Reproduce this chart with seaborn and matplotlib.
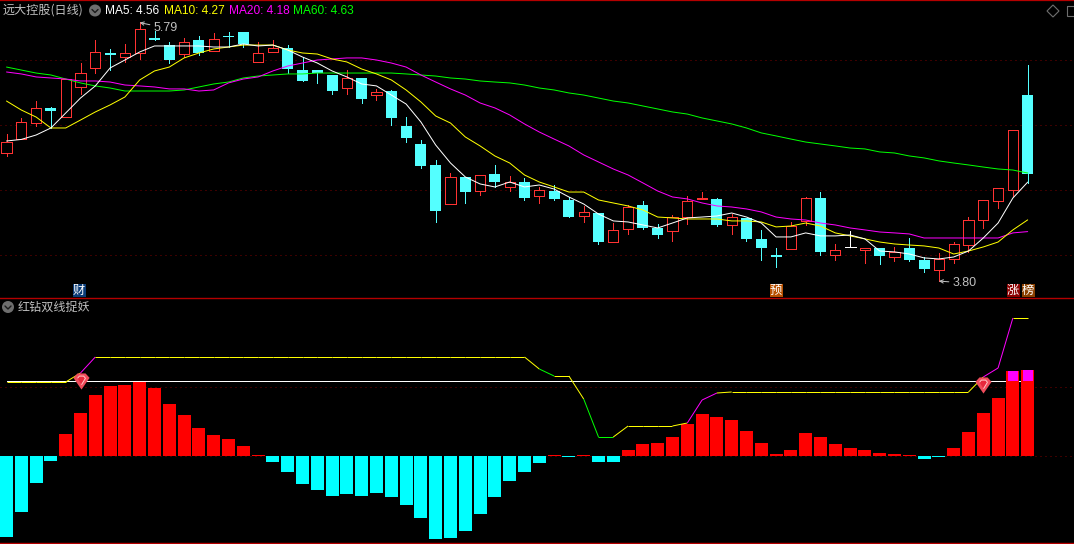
import matplotlib
matplotlib.use('Agg')
import matplotlib.pyplot as plt
from matplotlib.lines import Line2D
from matplotlib.patches import Circle, Polygon, Rectangle
from matplotlib.transforms import Affine2D
import numpy as np
import pandas as pd
import seaborn as sns

# Daily candles
opens = [4.784, 4.891, 5.014, 5.130, 5.060, 5.291, 5.437, 5.552, 5.521, 5.552,
         5.667, 5.613, 5.544, 5.652, 5.567, 5.683, 5.713, 5.483, 5.560, 5.590,
         5.421, 5.421, 5.383, 5.283, 5.360, 5.229, 5.260, 4.991, 4.853, 4.692,
         4.392, 4.600, 4.492, 4.623, 4.523, 4.561, 4.454, 4.492, 4.423, 4.300,
         4.323, 4.100, 4.200, 4.385, 4.208, 4.185, 4.292, 4.431, 4.431, 4.231,
         4.285, 4.124, 4.001, 4.047, 4.262, 4.438, 4.001, 4.062, 4.039, 4.054,
         3.985, 4.054, 3.962, 3.885, 3.970, 4.077, 4.269, 4.415, 4.500, 5.229]
highs = [4.930, 5.053, 5.183, 5.137, 5.352, 5.475, 5.652, 5.583, 5.621, 5.790,
         5.721, 5.636, 5.667, 5.683, 5.706, 5.713, 5.713, 5.636, 5.652, 5.613,
         5.521, 5.421, 5.383, 5.421, 5.360, 5.276, 5.268, 5.060, 4.884, 4.730,
         4.630, 4.600, 4.615, 4.692, 4.607, 4.592, 4.523, 4.538, 4.446, 4.377,
         4.323, 4.246, 4.385, 4.415, 4.239, 4.308, 4.454, 4.484, 4.438, 4.315,
         4.285, 4.193, 4.054, 4.254, 4.446, 4.484, 4.085, 4.185, 4.054, 4.054,
         4.062, 4.131, 3.985, 4.016, 4.100, 4.292, 4.423, 4.515, 4.961, 5.460]
lows = [4.761, 4.891, 4.991, 4.976, 5.060, 5.237, 5.398, 5.421, 5.483, 5.506,
        5.652, 5.475, 5.521, 5.537, 5.567, 5.598, 5.598, 5.483, 5.560, 5.398,
        5.337, 5.322, 5.237, 5.237, 5.168, 5.191, 4.999, 4.868, 4.669, 4.254,
        4.392, 4.400, 4.461, 4.523, 4.492, 4.423, 4.400, 4.423, 4.292, 4.254,
        4.085, 4.100, 4.162, 4.200, 4.131, 4.108, 4.239, 4.431, 4.223, 4.162,
        4.108, 3.962, 3.908, 4.047, 4.231, 4.001, 3.962, 4.062, 3.939, 3.932,
        3.955, 3.955, 3.870, 3.800, 3.939, 4.024, 4.208, 4.362, 4.454, 4.554]
closes = [4.868, 5.022, 5.130, 5.107, 5.352, 5.398, 5.560, 5.537, 5.552, 5.736,
          5.652, 5.498, 5.636, 5.552, 5.659, 5.675, 5.621, 5.552, 5.590, 5.429,
          5.337, 5.398, 5.260, 5.360, 5.199, 5.252, 5.053, 4.899, 4.684, 4.339,
          4.600, 4.484, 4.615, 4.561, 4.561, 4.438, 4.500, 4.431, 4.292, 4.331,
          4.100, 4.193, 4.369, 4.208, 4.154, 4.292, 4.415, 4.438, 4.231, 4.292,
          4.124, 4.054, 3.985, 4.223, 4.438, 4.024, 4.039, 4.062, 4.054, 3.993,
          4.024, 3.962, 3.893, 3.970, 4.085, 4.269, 4.423, 4.515, 4.961, 4.623]

ma5 = [4.876, 4.888, 4.922, 4.976, 5.091, 5.206, 5.299, 5.437, 5.498, 5.560,
       5.606, 5.606, 5.606, 5.606, 5.598, 5.598, 5.621, 5.606, 5.613, 5.575,
       5.521, 5.475, 5.414, 5.368, 5.314, 5.299, 5.229, 5.160, 5.022, 4.845,
       4.707, 4.600, 4.546, 4.523, 4.561, 4.523, 4.538, 4.507, 4.446, 4.392,
       4.315, 4.262, 4.254, 4.231, 4.208, 4.246, 4.285, 4.292, 4.300, 4.323,
       4.292, 4.246, 4.139, 4.139, 4.170, 4.147, 4.147, 4.154, 4.124, 4.031,
       4.024, 4.008, 3.978, 3.970, 3.985, 4.031, 4.131, 4.246, 4.438, 4.560]
ma10 = [5.183, 5.114, 5.060, 4.976, 4.976, 5.037, 5.099, 5.153, 5.214, 5.345,
        5.414, 5.444, 5.514, 5.552, 5.583, 5.598, 5.613, 5.613, 5.613, 5.575,
        5.552, 5.544, 5.506, 5.483, 5.429, 5.391, 5.345, 5.268, 5.176, 5.068,
        5.014, 4.907, 4.838, 4.761, 4.707, 4.615, 4.561, 4.523, 4.484, 4.484,
        4.423, 4.400, 4.377, 4.346, 4.292, 4.285, 4.277, 4.277, 4.277, 4.262,
        4.262, 4.254, 4.216, 4.223, 4.246, 4.223, 4.170, 4.147, 4.124, 4.100,
        4.085, 4.077, 4.070, 4.054, 4.008, 4.031, 4.062, 4.100, 4.193, 4.270]
ma20 = [5.406, 5.391, 5.368, 5.360, 5.352, 5.337, 5.337, 5.329, 5.306, 5.299,
        5.291, 5.276, 5.276, 5.260, 5.268, 5.322, 5.352, 5.368, 5.414, 5.452,
        5.475, 5.498, 5.506, 5.514, 5.514, 5.498, 5.475, 5.444, 5.383, 5.329,
        5.276, 5.229, 5.168, 5.130, 5.076, 5.007, 4.945, 4.891, 4.838, 4.769,
        4.715, 4.661, 4.615, 4.554, 4.492, 4.446, 4.431, 4.400, 4.377, 4.369,
        4.354, 4.331, 4.292, 4.277, 4.269, 4.246, 4.231, 4.208, 4.193, 4.177,
        4.170, 4.162, 4.131, 4.131, 4.131, 4.131, 4.131, 4.131, 4.170, 4.180]
ma60 = [5.444, 5.421, 5.398, 5.383, 5.352, 5.322, 5.299, 5.283, 5.260, 5.260,
        5.260, 5.260, 5.268, 5.291, 5.314, 5.329, 5.360, 5.375, 5.383, 5.391,
        5.391, 5.398, 5.398, 5.398, 5.398, 5.398, 5.398, 5.391, 5.383, 5.375,
        5.360, 5.352, 5.337, 5.329, 5.322, 5.306, 5.283, 5.268, 5.245, 5.229,
        5.206, 5.183, 5.168, 5.145, 5.122, 5.099, 5.083, 5.053, 5.030, 5.007,
        4.976, 4.938, 4.915, 4.891, 4.868, 4.853, 4.838, 4.822, 4.815, 4.792,
        4.784, 4.761, 4.746, 4.723, 4.707, 4.692, 4.676, 4.661, 4.653, 4.630]

# Indicator pane
bars = [-81, -56, -27, -5, 22, 43, 61, 70, 71, 74, 68, 52, 41, 28, 21, 17, 10, 1,
        -6, -16, -28, -34, -40, -38, -40, -37, -41, -49, -62, -83, -82, -75, -58,
        -41, -25, -16, -7, 1, -1, 1, -6, -6, 6, 12, 13, 19, 32, 42, 39, 36, 25, 13,
        2, 6, 23, 19, 12, 8, 6, 3, 2, 1, -3, -1, 8, 24, 43, 58, 85, 86]
trend = [74, 74, 74, 74, 74, 83, 99, 99, 99, 99, 99, 99, 99, 99, 99, 99, 99, 99,
         99, 99, 99, 99, 99, 99, 99, 99, 99, 99, 99, 99, 99, 99, 99, 99, 99, 99,
         87, 80, 80, 57, 19, 19, 30, 30, 30, 30, 33, 56, 63, 64, 64, 64, 64, 64,
         64, 64, 64, 64, 64, 64, 64, 64, 64, 64, 64, 64, 79, 88, 138, 138]
trend_colors = ['y'] * 5 + ['m'] + ['y'] * 30 + ['g'] + ['y'] * 2 + ['g'] * 2 + \
               ['y'] * 5 + ['m'] * 2 + ['y'] * 18 + ['m'] * 2 + ['y']
level = 75
gem_days = [5, 66]
gem_values = [75, 71]
hot_days = [68, 69]

RED = '#FF3232'
CYAN = '#54FFFF'
GREY = '#C0C0C0'
BORDER = '#B40000'
GRID = '#7A0000'
SEG_COLORS = {'y': '#FFFF00', 'm': '#FF00FF', 'g': '#00FF00'}
LW = 0.72  # one pixel

sns.set_theme(style='dark', rc={'figure.facecolor': 'black', 'axes.facecolor': 'black',
                                'patch.force_edgecolor': False})
plt.rcParams['font.family'] = ['Noto Sans CJK SC', 'DejaVu Sans']

fig = plt.figure(figsize=(10.74, 5.44), dpi=100)
ax1 = fig.add_axes([0, 246 / 544, 1, 298 / 544])
ax2 = fig.add_axes([0, 1 / 544, 1, 245 / 544])
pix = Affine2D().scale(1, -1).translate(0, 544)

days = np.arange(len(closes))
df = pd.DataFrame({'day': days, 'open': opens, 'high': highs, 'low': lows, 'close': closes,
                   'ma5': ma5, 'ma10': ma10, 'ma20': ma20, 'ma60': ma60,
                   'bar': bars, 'trend': trend})

# upper pane
for value in [4.0, 4.5, 5.0, 5.5]:
    ax1.axhline(value, color=GRID, lw=LW, ls=(0, (1, 4)), zorder=1)

up = df[df.close > df.open]
down = df[df.close < df.open]
flat = df[df.close == df.open]
ax1.vlines(up.day, up.low, up.high, color=RED, lw=LW, zorder=2, antialiased=False, snap=True)
ax1.vlines(down.day, down.low, down.high, color=CYAN, lw=LW, zorder=2, antialiased=False, snap=True)
ax1.vlines(flat.day, flat.low, flat.high, color='white', lw=LW, zorder=2, antialiased=False, snap=True)
ax1.bar(up.day, up.close - up.open, bottom=up.open, width=0.68, facecolor='black',
        edgecolor=RED, lw=LW, zorder=3, antialiased=False, snap=True)
ax1.bar(down.day, down.open - down.close, bottom=down.close, width=0.74, facecolor=CYAN,
        edgecolor='none', lw=0, zorder=3, antialiased=False)
ax1.hlines(flat.close, flat.day - 0.37, flat.day + 0.37, color='white', lw=LW, zorder=3,
           antialiased=False, snap=True)

for col, color in [('ma60', '#00FF00'), ('ma20', '#FF00FF'), ('ma10', '#FFFF00'), ('ma5', 'white')]:
    sns.lineplot(data=df, x='day', y=col, color=color, lw=LW, ax=ax1, zorder=4,
                 estimator=None, errorbar=None)

ax1.set_xlim(-0.44, 72.13)
ax1.set_ylim(3.670, 5.959)

ax1.annotate('5.79', xy=(9, 5.785), xytext=(154, 28), textcoords=pix, color=GREY,
             family='Liberation Sans', fontsize=9, va='center', ha='left',
             arrowprops=dict(arrowstyle='->', color=GREY, lw=LW, shrinkA=1, shrinkB=0, mutation_scale=6))
ax1.annotate('3.80', xy=(63, 3.80), xytext=(953, 283), textcoords=pix, color=GREY,
             family='Liberation Sans', fontsize=9, va='center', ha='left',
             arrowprops=dict(arrowstyle='->', color=GREY, lw=LW, shrinkA=1, shrinkB=0, mutation_scale=6))

# lower pane
ax2.axhline(0, color=GRID, lw=LW, ls=(0, (1, 4)), zorder=1)
ax2.axhline(69, color=GRID, lw=LW, ls=(0, (1, 4)), zorder=1)
ax2.plot(days, [level] * len(days), color='white', lw=LW, zorder=2, antialiased=False)
df['side'] = np.where(df.bar > 0, 'pos', 'neg')
sns.barplot(data=df, x='day', y='bar', hue='side', palette={'pos': '#FF0000', 'neg': '#00FFFF'},
            native_scale=True, dodge=False, width=0.88, saturation=1, legend=False,
            errorbar=None, ax=ax2, zorder=3, antialiased=False, edgecolor='none', lw=0)
hot = df[df.day.isin(hot_days)]
ax2.bar(hot.day, hot.bar - level, bottom=level, width=0.68, facecolor='#FF00FF',
        edgecolor='none', lw=0, zorder=4, antialiased=False)
for start, code in enumerate(trend_colors):
    ax2.plot(days[start:start + 2], trend[start:start + 2], color=SEG_COLORS[code],
             lw=LW, zorder=5, solid_capstyle='butt')

gem_outer = [(-1, 0.45), (-0.5, 1), (0.5, 1), (1, 0.45), (0, -1)]
gem_inner = [(-0.55, 0.45), (-0.3, 0.75), (0.3, 0.75), (0.55, 0.45), (0, -0.45)]
ax2.scatter(gem_days, gem_values, marker=gem_outer, s=135, color='#F04C5C', lw=0, zorder=6)
ax2.scatter(gem_days, gem_values, marker=gem_inner, s=60, facecolor='#E8283C',
            edgecolor='#FFC8C8', lw=0.7, zorder=7)

ax2.set_xlim(-0.44, 72.13)
ax2.set_ylim(-87, 158)

for ax in (ax1, ax2):
    ax.set_xticks([])
    ax.set_yticks([])
    ax.set_xlabel('')
    ax.set_ylabel('')
    ax.grid(False)
    for side in ax.spines:
        ax.spines[side].set_visible(False)
ax1.spines['top'].set_visible(True)
ax1.spines['top'].set_color(BORDER)
ax1.spines['top'].set_linewidth(0.9)
for side in ('top', 'bottom'):
    ax2.spines[side].set_visible(True)
    ax2.spines[side].set_color(BORDER)
    ax2.spines[side].set_linewidth(1.0)

# header texts
fig.text(3, 10, '远大控股(日线)', transform=pix, color=GREY, fontsize=8.7, va='center')
fig.text(18, 307, '红钻双线捉妖', transform=pix, color=GREY, fontsize=8.7, va='center')
legend_items = [(105, 'MA5: 4.56', 'white'), (164, 'MA10: 4.27', '#FFFF00'),
                (229, 'MA20: 4.18', '#FF00FF'), (293, 'MA60: 4.63', '#00FF00')]
for x, label, color in legend_items:
    fig.text(x, 10.5, label, transform=pix, color=color, family='Liberation Sans',
             fontsize=8.6, va='center')

# round icons
for cx, cy in [(95, 10.5), (8, 307)]:
    fig.add_artist(Circle((cx, cy), 6, transform=pix, facecolor='#6E6E6E', edgecolor='none'))
    fig.add_artist(Line2D([cx - 3, cx, cx + 3], [cy - 1, cy + 2, cy - 1], transform=pix,
                          color='#1A1A1A', lw=1.0))
fig.add_artist(Polygon([(1053, 5), (1059, 11), (1053, 17), (1047, 11)], closed=True, transform=pix,
                       facecolor='none', edgecolor='#6E6E6E', lw=0.8))
fig.add_artist(Rectangle((1067, 6), 14, 10, transform=pix, facecolor='none',
                         edgecolor='#6E6E6E', lw=0.8))

# event badges
badges = [(79, '财', '#0A3C78'), (776, '预', '#B85000'), (1013, '涨', '#8C0000'), (1028, '榜', '#8A4000')]
for x, label, color in badges:
    fig.add_artist(Rectangle((x - 6.5, 284), 13, 13, transform=pix, facecolor=color, edgecolor='none'))
    fig.text(x, 290.5, label, transform=pix, color='white', fontsize=8.8, ha='center', va='center')

fig.savefig('out.png', dpi=100, facecolor='black')
